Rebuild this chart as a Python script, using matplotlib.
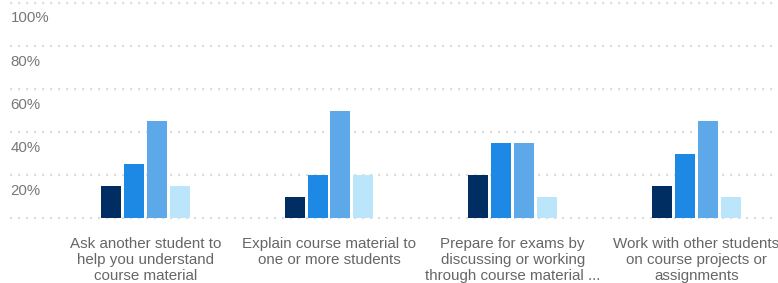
import matplotlib.pyplot as plt
import numpy as np

plt.rcParams['font.family'] = ['Liberation Sans', 'DejaVu Sans']

# Data
categories = [
    "Ask another student to\nhelp you understand\ncourse material",
    "Explain course material to\none or more students",
    "Prepare for exams by\ndiscussing or working\nthrough course material ...",
    "Work with other students\non course projects or\nassignments",
]
series_1 = [15, 10, 20, 15]
series_2 = [25, 20, 35, 30]
series_3 = [45, 50, 35, 45]
series_4 = [15, 20, 10, 10]
y_ticks = [20, 40, 60, 80, 100]
y_tick_labels = ["20%", "40%", "60%", "80%", "100%"]

colors = ["#002E62", "#1E88E5", "#5DA8E8", "#BAE5FA"]

W, H = 778, 283
fig = plt.figure(figsize=(W / 100, H / 100), dpi=100)
ax = fig.add_axes([10 / W, (H - 218.3) / H, 768 / W, (218.3 - 2.7) / H])

# pixel -> data mapping along x: group i centre at 145.3 + 183.7 * i px
step = 183.7
x0 = 145.3
ax.set_xlim((10 - x0) / step, (W - x0) / step)
ax.set_ylim(0, 100)

x = np.arange(len(categories))
bw = 20 / step
gap = 23 / step
all_series = [series_1, series_2, series_3, series_4]
for k, (vals, c) in enumerate(zip(all_series, colors)):
    ax.bar(x + (k - 1.5) * gap, vals, width=bw, color=c, zorder=3,
           linewidth=0)

# dotted gridlines
for yv in [0] + y_ticks:
    ax.axhline(yv, color="#dddddd", linewidth=1.6, linestyle=(0, (1.0, 2.6)),
               zorder=1, clip_on=False)

# y tick labels sit just below their gridline
for yv, lab in zip(y_ticks, y_tick_labels):
    ax.annotate(lab, xy=(0, yv), xycoords=('axes fraction', 'data'),
                xytext=(0.5, -15.7 * 0.72), textcoords='offset points',
                ha='left', va='center', fontsize=10.8, color="#777777")

# category labels
for i, lab in enumerate(categories):
    ax.annotate(lab, xy=(i, 0), xycoords='data',
                xytext=(0, -(237 - 218.3) * 0.72), textcoords='offset points',
                ha='center', va='top', fontsize=10.9, color="#666666",
                linespacing=1.19, annotation_clip=False)

ax.set_xticks([])
ax.set_yticks([])
for s in ax.spines.values():
    s.set_visible(False)
ax.patch.set_alpha(0)

fig.savefig("out.png", dpi=100)
